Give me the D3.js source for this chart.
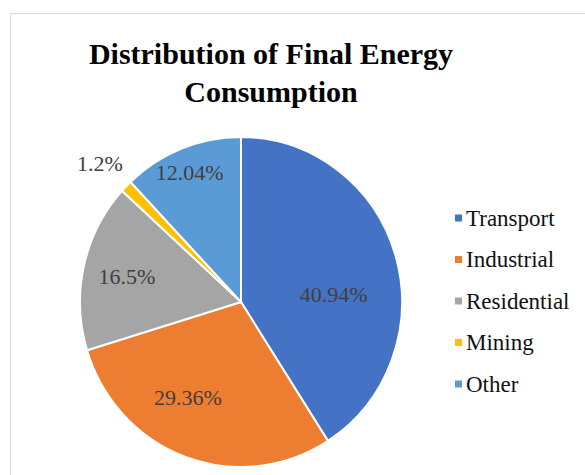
<!DOCTYPE html>
<html>
<head>
<meta charset="utf-8">
<script src="https://cdn.jsdelivr.net/npm/d3@7"></script>
<style>
  body { margin: 0; background: #fff; }
  svg { display: block; }
</style>
</head>
<body>
<div id="chart"></div>
<script>
const categories = ['Transport', 'Industrial', 'Residential', 'Mining', 'Other'];
const values = [40.94, 29.36, 16.5, 1.2, 12.04];
const valueLabels = ['40.94%', '29.36%', '16.5%', '1.2%', '12.04%'];
const colors = ['#4472C4', '#ED7D31', '#A5A5A5', '#FFC000', '#5B9BD5'];
const titleLines = ['Distribution of Final Energy', 'Consumption'];

// where Excel put each data label (radius from centre, extra angle in degrees)
const labelPlace = {
    Transport: {r: 93, da: 12},
    Industrial: {r: 109, da: 9},
    Residential: {r: 117, da: 0},
    Mining: {r: 198, da: 0},
    Other: {r: 139, da: 0}
};

const W = 585, H = 475;
const cx = 241, cy = 302, radius = 161;
const font = "'Liberation Serif', Tinos, 'Times New Roman', 'DejaVu Serif', serif";

const data = categories.map((c, i) => ({name: c, value: values[i], label: valueLabels[i]}));

const svg = d3.select('#chart')
    .append('svg')
        .attr('width', W)
        .attr('height', H);

// chart frame
svg.append('rect')
    .attr('x', 10.5)
    .attr('y', 13.5)
    .attr('width', W)
    .attr('height', H)
    .attr('fill', '#fff')
    .attr('stroke', '#d9d9d9');

// titulo
svg.append('text')
    .attr('x', 271)
    .attr('y', 64)
    .attr('text-anchor', 'middle')
    .style('font-family', font)
    .style('font-weight', 'bold')
    .style('font-size', '30px')
    .attr('fill', '#000')
    .selectAll('tspan')
    .data(titleLines)
    .enter()
    .append('tspan')
        .attr('x', 271)
        .attr('dy', (d, i) => i == 0 ? 0 : 38)
        .text(d => d);

const color = d3.scaleOrdinal()
    .domain(categories)
    .range(colors);

const pie = d3.pie()
    .sort(null)
    .value(d => d.value);

const arcs = pie(data);

const arc = d3.arc()
    .innerRadius(0)
    .outerRadius(radius);

const g = svg.append('g')
    .attr('transform', `translate(${cx},${cy}) scale(1,1.025)`);

g.selectAll('path')
    .data(arcs)
    .enter()
    .append('path')
        .attr('d', arc)
        .attr('fill', d => color(d.data.name))
        .attr('stroke', '#fff')
        .attr('stroke-width', 2);

// rotulos
const labelG = svg.append('g')
    .attr('transform', `translate(${cx},${cy})`);

labelG.selectAll('text')
    .data(arcs)
    .enter()
    .append('text')
        .attr('transform', d => {
            let p = labelPlace[d.data.name];
            let a = (d.startAngle + d.endAngle) / 2 + p.da * Math.PI / 180;
            return `translate(${p.r * Math.sin(a)},${-p.r * Math.cos(a)})`;
        })
        .attr('text-anchor', 'middle')
        .attr('dominant-baseline', 'central')
        .style('font-family', font)
        .style('font-size', '22px')
        .attr('fill', '#404040')
        .text(d => d.data.label);

// legenda
const legendY = d3.scalePoint()
    .domain(categories)
    .range([218, 384]);

const legend = svg.append('g')
    .selectAll('g')
    .data(categories)
    .enter()
    .append('g')
        .attr('transform', d => `translate(455,${legendY(d)})`);

legend.append('rect')
    .attr('x', 0)
    .attr('y', -3.5)
    .attr('width', 7)
    .attr('height', 7)
    .attr('fill', d => color(d));

legend.append('text')
    .attr('x', 11)
    .attr('y', 0)
    .attr('dominant-baseline', 'central')
    .style('font-family', font)
    .style('font-size', '23px')
    .attr('fill', '#111')
    .text(d => d);
</script>
</body>
</html>
